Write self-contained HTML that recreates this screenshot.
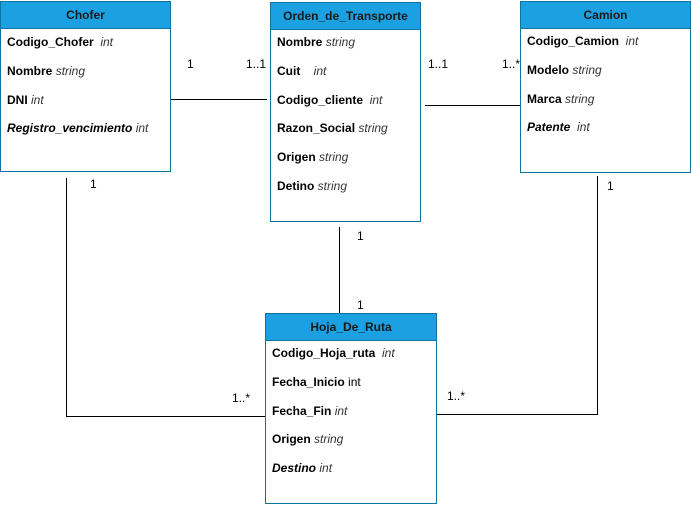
<!DOCTYPE html>
<html><head><meta charset="utf-8"><style>
body{margin:0;width:691px;height:507px;background:#fff;position:relative;overflow:hidden;font-family:"Liberation Sans",Arial,sans-serif;font-size:12px;color:#000}
.box{position:absolute;border:1px solid #10739e;background:#fff;box-sizing:border-box}
.hd{background:#1ba1e2;height:26px;line-height:26px;text-align:center;font-weight:bold;border-bottom:1px solid #10739e;color:#1a1a1a}
.r{position:absolute;left:6px;white-space:nowrap;font-weight:bold}
.r i{font-weight:normal;color:#333}
.l{position:absolute;font-size:12px;color:#000}
</style></head><body>
<svg width="691" height="507" style="position:absolute;left:0;top:0">
<g stroke="#000" stroke-width="1" fill="none">
<path d="M170 99.5H267"/>
<path d="M425 105.5H520"/>
<path d="M66.5 178V416.5H265"/>
<path d="M339.5 227V313"/>
<path d="M597.5 176V414.5H436"/>
</g></svg>

<div class="box" style="left:0;top:1px;width:171px;height:171px"><div class="hd">Chofer</div>
<div class="r" style="top:33px">Codigo_Chofer &nbsp;<i>int</i></div>
<div class="r" style="top:62px">Nombre <i>string</i></div>
<div class="r" style="top:91px">DNI <i>int</i></div>
<div class="r" style="top:119px"><em>Registro_vencimiento</em> <i>int</i></div>
</div>

<div class="box" style="left:270px;top:2px;width:151px;height:220px"><div class="hd">Orden_de_Transporte</div>
<div class="r" style="top:32px">Nombre <i>string</i></div>
<div class="r" style="top:61px">Cuit &nbsp;&nbsp;&nbsp;<i>int</i></div>
<div class="r" style="top:90px">Codigo_cliente &nbsp;<i>int</i></div>
<div class="r" style="top:118px">Razon_Social <i>string</i></div>
<div class="r" style="top:147px">Origen <i>string</i></div>
<div class="r" style="top:176px">Detino <i>string</i></div>
</div>

<div class="box" style="left:520px;top:1px;width:171px;height:172px"><div class="hd">Camion</div>
<div class="r" style="top:32px">Codigo_Camion &nbsp;<i>int</i></div>
<div class="r" style="top:61px">Modelo <i>string</i></div>
<div class="r" style="top:90px">Marca <i>string</i></div>
<div class="r" style="top:118px"><em>Patente</em> &nbsp;<i>int</i></div>
</div>

<div class="box" style="left:265px;top:313px;width:172px;height:191px"><div class="hd">Hoja_De_Ruta</div>
<div class="r" style="top:32px">Codigo_Hoja_ruta &nbsp;<i>int</i></div>
<div class="r" style="top:61px">Fecha_Inicio <span style="font-weight:normal">int</span></div>
<div class="r" style="top:90px">Fecha_Fin <i>int</i></div>
<div class="r" style="top:118px">Origen <i>string</i></div>
<div class="r" style="top:147px"><em>Destino</em> <i>int</i></div>
</div>

<div class="l" style="left:187px;top:57px">1</div>
<div class="l" style="left:246px;top:57px">1..1</div>
<div class="l" style="left:428px;top:57px">1..1</div>
<div class="l" style="left:502px;top:57px">1..*</div>
<div class="l" style="left:90px;top:177px">1</div>
<div class="l" style="left:357px;top:229px">1</div>
<div class="l" style="left:357px;top:298px">1</div>
<div class="l" style="left:607px;top:179px">1</div>
<div class="l" style="left:232px;top:391px">1..*</div>
<div class="l" style="left:447px;top:389px">1..*</div>
</body></html>
